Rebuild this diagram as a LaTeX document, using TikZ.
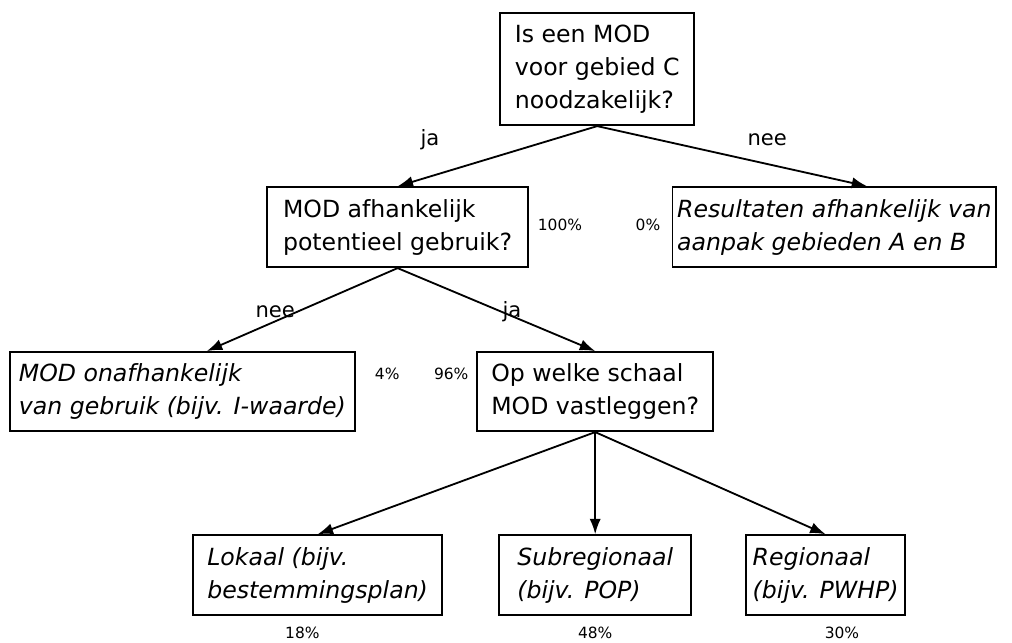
\documentclass[tikz,border=0pt]{standalone}
\usepackage{fontspec}
\setmainfont{DejaVu Sans}
\usetikzlibrary{shapes.geometric, arrows.meta}
\tikzstyle{arrow} = [line width=1.3pt,->,>={Latex[length=11pt,width=8pt]}]
\tikzstyle{vraag} = [rectangle, draw=black, line width=1.3pt, align=left, minimum height=2cm, font=\fontsize{16.8}{23.5}\selectfont]
\tikzstyle{uitkomst} = [vraag, font=\fontsize{16.8}{23.5}\selectfont\itshape]
\tikzstyle{keuze} = [font=\fontsize{15}{18}\selectfont]
\tikzstyle{perc} = [font=\fontsize{11}{13}\selectfont]
\begin{document}
\begin{tikzpicture}
	\useasboundingbox (0,0) rectangle (25.3,-16.075);
	\node (q1) [vraag, minimum width=4.85cm, minimum height=2.8cm] at (14.93,-1.73) {Is een MOD\\voor gebied C\\noodzakelijk?};
	\node (q2) [vraag, minimum width=6.53cm, below of=q1, xshift=-4.99cm, yshift=-2.95cm] {MOD afhankelijk\\potentieel gebruik?};
	\node (res) [uitkomst, minimum width=8.03cm, below of=q1, xshift=5.93cm, yshift=-2.95cm] {Resultaten afhankelijk van\\aanpak gebieden A en B};
	\node (ind) [uitkomst, minimum width=8.63cm, minimum height=1.98cm, below of=q2, xshift=-5.38cm, yshift=-3.11cm] {MOD onafhankelijk\\van gebruik (bijv. I-waarde)};
	\node (q3) [vraag, minimum width=5.9cm, minimum height=1.98cm, below of=q2, xshift=4.94cm, yshift=-3.11cm] {Op welke schaal\\MOD vastleggen?};
	\node (sub) [uitkomst, minimum width=4.8cm, below of=q3, yshift=-3.59cm] {Subregionaal\\(bijv. POP)};
	\node (lok) [uitkomst, minimum width=6.23cm, left of=sub, xshift=-5.94cm] {Lokaal (bijv.\\bestemmingsplan)};
	\node (reg) [uitkomst, minimum width=3.98cm, right of=sub, xshift=4.76cm] {Regionaal\\(bijv. PWHP)};

	% ja / nee bij de pijlen
	\node (ja1) [keuze] at (10.75,-3.5) {ja};
	\node (nee1) [keuze] at (19.18,-3.5) {nee};
	\node (nee2) [keuze] at (6.88,-7.8) {nee};
	\node (ja2) [keuze] at (12.8,-7.8) {ja};

	% percentages
	\node (p100) [perc] at (14.0,-5.62) {100\%};
	\node (p0) [perc] at (16.2,-5.62) {0\%};
	\node (p4) [perc] at (9.68,-9.35) {4\%};
	\node (p96) [perc] at (11.28,-9.35) {96\%};
	\node (p18) [perc, below of=lok, xshift=-0.38cm, yshift=-0.45cm] {18\%};
	\node (p48) [perc, below of=sub, yshift=-0.45cm] {48\%};
	\node (p30) [perc, below of=reg, xshift=0.41cm, yshift=-0.45cm] {30\%};

	\draw [arrow] (q1.south) -- (q2.north);
	\draw [arrow] (q1.south) -- ([xshift=0.82cm]res.north);
	\draw [arrow] (q2.south) -- ([xshift=0.61cm]ind.north);
	\draw [arrow] (q2.south) -- (q3.north);
	\draw [arrow] (q3.south) -- (lok.north);
	\draw [arrow] (q3.south) -- (sub.north);
	\draw [arrow] (q3.south) -- (reg.north);
\end{tikzpicture}
\end{document}
